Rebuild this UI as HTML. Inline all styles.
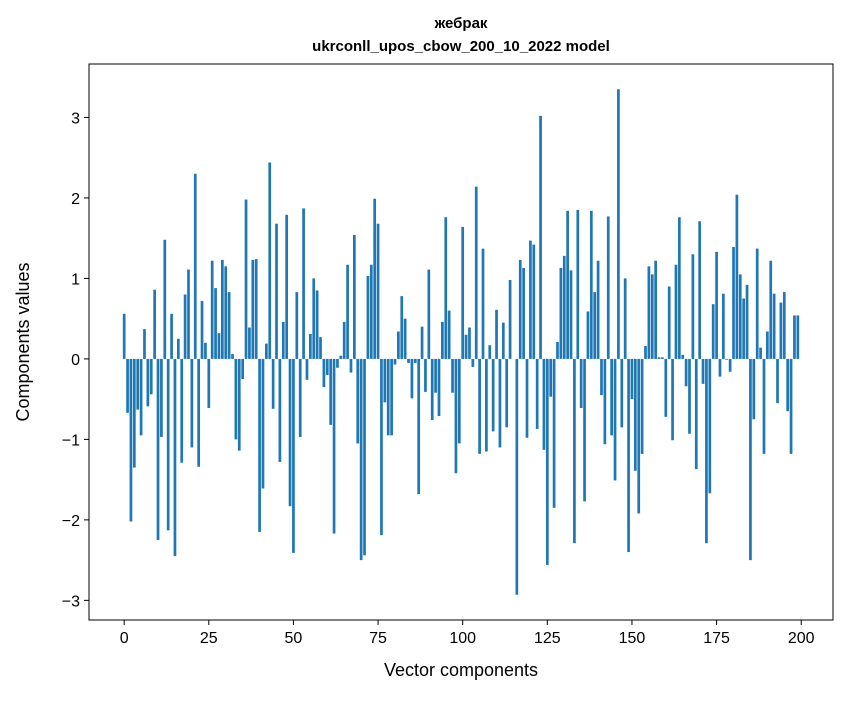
<!DOCTYPE html>
<html><head><meta charset="utf-8"><style>
body{margin:0;background:#fff;}
svg text{font-family:"Liberation Sans","DejaVu Sans",sans-serif;fill:#000;}
</style></head><body>
<svg id="chart" width="847" height="696" xmlns="http://www.w3.org/2000/svg">
<rect width="847" height="696" fill="#fff"/>
<text x="461" y="28" text-anchor="middle" font-size="15" font-weight="bold">жебрак</text>
<text x="461" y="51" text-anchor="middle" font-size="15" font-weight="bold">ukrconll_upos_cbow_200_10_2022 model</text>
<g id="bars"></g>
<g id="axes"></g>
<text x="461" y="676" text-anchor="middle" font-size="18">Vector components</text>
<text transform="translate(29,342) rotate(-90)" text-anchor="middle" font-size="18">Components values</text>
</svg>
<script>
const values = [0.56,-0.67,-2.02,-1.35,-0.63,-0.95,0.37,-0.59,-0.44,0.86,
-2.25,-0.97,1.48,-2.13,0.56,-2.45,0.25,-1.29,0.80,1.11,
-1.10,2.30,-1.34,0.72,0.20,-0.61,1.22,0.88,0.32,1.23,
1.15,0.83,0.06,-1.00,-1.14,-0.25,1.98,0.39,1.23,1.24,
-2.15,-1.61,0.19,2.44,-0.62,1.68,-1.28,0.46,1.79,-1.83,
-2.41,0.83,-0.97,1.87,-0.26,0.31,1.00,0.85,0.27,-0.35,
-0.20,-0.82,-2.17,-0.11,0.04,0.46,1.17,-0.17,1.54,-1.05,
-2.50,-2.44,1.03,1.17,1.99,1.68,-2.19,-0.54,-0.95,-0.95,
-0.07,0.34,0.78,0.50,-0.05,-0.49,-0.05,-1.68,0.40,-0.41,
1.11,-0.76,-0.42,-0.71,0.46,1.76,0.60,-0.42,-1.42,-1.05,
1.64,0.30,0.39,-0.10,2.14,-1.18,1.37,-1.15,0.17,-0.90,
0.61,-1.10,0.45,-0.85,0.98,0.0,-2.93,1.23,1.13,-0.98,
1.47,1.42,-0.87,3.02,-1.13,-2.56,-0.47,-1.85,0.21,1.13,
1.28,1.84,1.10,-2.29,1.85,-0.61,-1.77,0.59,1.84,0.83,
1.22,-0.45,-1.06,1.77,-0.95,-1.51,3.35,-0.85,1.00,-2.40,
-0.50,-1.39,-1.92,-1.18,0.16,1.15,1.05,1.22,0.02,0.02,
-0.72,0.90,-1.01,1.17,1.76,0.05,-0.34,-0.93,1.30,-1.37,
1.71,-0.31,-2.29,-1.67,0.68,1.33,-0.22,0.81,-0.01,-0.16,
1.39,2.04,1.05,0.75,0.92,-2.50,-0.75,1.37,0.14,-1.18,
0.34,1.22,0.81,-0.55,0.70,0.83,-0.65,-1.18,0.54,0.54];
const xTicks = [0,25,50,75,100,125,150,175,200];
const yTicks = [-3,-2,-1,0,1,2,3];

const L=89,R=833,T=64,B=620;
const n=values.length;
const x0=-0.4,x1=n-1+0.4,xm=(x1-x0)*0.05;
const xmin=x0-xm,xmax=x1+xm;
let vmin=Math.min(0,...values),vmax=Math.max(0,...values);
const ym=(vmax-vmin)*0.05;
const ymin=vmin-ym,ymax=vmax+ym;
const sx=v=>L+(v-xmin)/(xmax-xmin)*(R-L);
const sy=v=>B-(v-ymin)/(ymax-ymin)*(B-T);
const NS="http://www.w3.org/2000/svg";
const bars=document.getElementById('bars');
values.forEach((v,i)=>{
  const r=document.createElementNS(NS,'rect');
  
  
  const a=sy(Math.max(v,0)),b=sy(Math.min(v,0));
  r.setAttribute('x',sx(i-0.4));r.setAttribute('width',sx(0.8)-sx(0));
  r.setAttribute('y',a);r.setAttribute('height',Math.max(b-a,0));
  r.setAttribute('fill','#1f77b4');
  bars.appendChild(r);
});
const ax=document.getElementById('axes');
const fr=document.createElementNS(NS,'rect');


fr.setAttribute('x',L);fr.setAttribute('y',T);fr.setAttribute('width',R-L);fr.setAttribute('height',B-T);
fr.setAttribute('fill','none');fr.setAttribute('stroke','#000');fr.setAttribute('stroke-width','1');
ax.appendChild(fr);
xTicks.forEach(t=>{
  const X=sx(t);
  const l=document.createElementNS(NS,'line');
  
  
  l.setAttribute('x1',X);l.setAttribute('x2',X);l.setAttribute('y1',B);l.setAttribute('y2',B+5);l.setAttribute('stroke','#000');
  ax.appendChild(l);
  const tx=document.createElementNS(NS,'text');
  
  
  tx.setAttribute('x',X);tx.setAttribute('y',B+23);tx.setAttribute('text-anchor','middle');tx.setAttribute('font-size','16');
  tx.textContent=t;ax.appendChild(tx);
});
yTicks.forEach(t=>{
  const Y=sy(t);
  const l=document.createElementNS(NS,'line');
  
  
  l.setAttribute('x1',L-5);l.setAttribute('x2',L);l.setAttribute('y1',Y);l.setAttribute('y2',Y);l.setAttribute('stroke','#000');
  ax.appendChild(l);
  const tx=document.createElementNS(NS,'text');
  
  
  tx.setAttribute('x',L-9);tx.setAttribute('y',Y+6);tx.setAttribute('text-anchor','end');tx.setAttribute('font-size','16');
  tx.textContent=(t<0?'\u2212'+(-t):t);ax.appendChild(tx);
});
</script>
</body></html>
